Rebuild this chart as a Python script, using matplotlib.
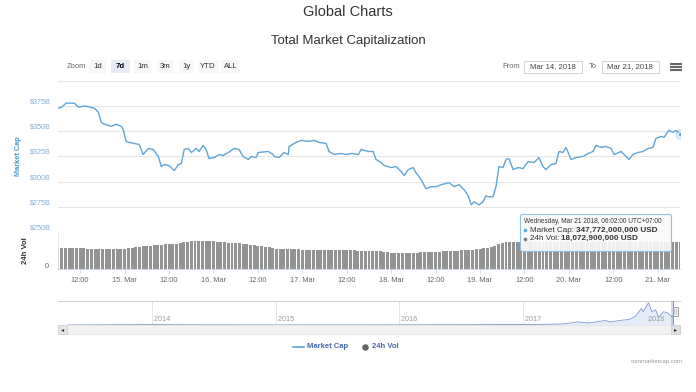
import matplotlib
matplotlib.use('Agg')
import matplotlib.pyplot as plt
import matplotlib.dates as mdates
from matplotlib.patches import Rectangle, FancyBboxPatch, Circle
from matplotlib.transforms import offset_copy
from datetime import datetime, timedelta

plt.rcParams['font.family'] = ['Liberation Sans', 'DejaVu Sans']

# ---------------- data ----------------
start_time = datetime(2018, 3, 14, 6, 2)   # first point (UTC+7)
span_hours = 168

cap_hours = [0, 0.9, 2.2, 4.4, 5.5, 6.8, 7.6, 9.8, 10.9, 11.7,
             12.5, 14.4, 15.7, 17.1, 17.6, 18.4, 19.2, 20.6, 21.9, 23.0,
             24.4, 25.7, 27.1, 27.9, 28.7, 30.0, 31.4, 32.5, 33.3, 34.1,
             35.2, 36.0, 37.3, 38.1, 39.2, 40.0, 40.8, 42.2, 43.5, 44.6,
             46.0, 47.6, 48.9, 50.0, 51.4, 52.2, 53.5, 54.1, 56.8, 58.1,
             58.4, 59.7, 61.1, 62.2, 62.4, 64.3, 65.7, 67.6, 69.2, 70.5,
             72.4, 73.2, 74.6, 76.5, 77.8, 79.2, 81.1, 81.9, 83.8, 85.1,
             85.9, 87.3, 88.1, 90.0, 91.3, 92.7, 93.5, 94.6, 95.9, 96.7,
             98.1, 99.4, 100.8, 102.1, 103.5, 105.6, 107.0, 108.3, 109.7, 110.8,
             111.6, 112.4, 113.7, 114.8, 115.6, 116.2, 117.5, 118.3, 119.1, 120.2,
             121.0, 121.8, 122.9, 124.3, 125.6, 127.0, 128.6, 129.9, 131.0, 131.8,
             133.2, 134.5, 135.3, 136.4, 137.2, 138.6, 139.9, 141.8, 143.2, 144.5,
             145.3, 146.7, 148.0, 149.4, 150.2, 152.1, 153.4, 154.2, 155.3, 156.7,
             158.0, 159.4, 160.7, 161.5, 162.9, 163.7, 165.0, 166.1, 166.9, 168.0]
market_cap_b = [373, 373.7, 378, 378, 374, 375, 375, 373, 369, 359,
                357, 355, 357, 355, 352, 340, 339, 338, 337, 327,
                333, 332, 325, 315, 317, 316, 311, 317, 318, 332,
                333, 329, 333, 330, 336, 332, 323, 324, 327, 326,
                329, 333, 332, 325, 322, 325, 324, 329, 330, 327,
                325, 324, 329, 327, 335, 339, 341, 340, 341, 339,
                338, 330, 327, 328, 327, 328, 327, 332, 330, 330,
                322, 319, 316, 314, 315, 310, 306, 312, 314, 309,
                302, 293, 295, 295, 297, 299, 295, 297, 292, 286,
                277, 280, 277, 280, 286, 285, 285, 295, 315, 314,
                322, 323, 312, 314, 313, 320, 319, 324, 315, 312,
                317, 318, 330, 329, 334, 322, 324, 325, 328, 330,
                336, 334, 335, 333, 327, 330, 325, 322, 327, 329,
                330, 333, 334, 343, 345, 344, 351, 349, 351, 347.772]

# hourly 24h volume, $B
volume_b = [13.8, 13.8, 13.7, 13.7, 13.7, 13.6, 13.6, 13.6, 13.5, 13.5, 13.4,
            13.3, 13.3, 13.3, 13.2, 13.2, 13.1, 13.1, 13.0,
            14.0, 14.2, 14.4, 14.7, 15.0, 15.3,
            15.5, 15.7, 15.9, 16.2, 16.5,
            16.6, 16.7, 16.8, 17.0,
            18.1, 18.2, 18.3, 18.4, 18.5,
            18.5, 18.4, 18.4, 18.3, 18.1,
            17.9, 17.7, 17.5, 17.4, 17.2,
            17.0, 16.7, 16.4, 16.0, 15.7,
            15.4, 15.2, 14.8, 14.3, 13.8,
            13.4, 13.2, 13.1, 13.1, 13.0,
            13.0, 13.0, 12.9, 12.9, 12.8, 12.8, 12.8, 12.7, 12.7, 12.6,
            12.6, 12.5, 12.5, 12.4, 12.4, 12.3, 12.3, 12.2, 12.1, 12.1,
            12.0, 12.0, 11.9, 11.9, 11.5, 11.0, 10.7, 10.4,
            10.4, 10.5, 10.5, 10.6, 10.8, 10.9, 11.0, 11.1, 11.2,
            11.3, 11.4, 11.5, 11.6, 11.8, 11.9, 12.0, 12.1, 12.3, 12.5,
            12.7, 12.9, 13.1, 13.3, 13.6, 14.0,
            14.6, 15.2, 16.5, 17.5,
            18.1, 18.2, 18.2, 18.1, 18.1, 18.2, 18.2, 18.1, 18.0, 18.1,
            18.1, 18.2, 18.1, 18.1, 18.0, 18.0, 18.1, 18.1, 18.2, 18.1,
            18.1, 18.0, 18.1, 18.1, 18.2, 18.2, 18.1, 18.1, 18.0, 18.1,
            18.1, 18.1, 18.2, 18.1, 18.1, 18.0, 18.1, 18.1, 18.1, 18.2,
            18.2, 18.1, 18.1, 18.1, 18.1, 18.1, 18.1, 18.07]

x_tick_labels = ["12:00", "15. Mar", "12:00", "16. Mar", "12:00", "17. Mar", "12:00",
                 "18. Mar", "12:00", "19. Mar", "12:00", "20. Mar", "12:00", "21. Mar"]
first_tick = datetime(2018, 3, 14, 12, 0)

cap_ticks = [250, 275, 300, 325, 350, 375, 400]
cap_tick_labels = ["$250B", "$275B", "$300B", "$325B", "$350B", "$375B", ""]

nav_dates = ["2013-04-28", "2013-12-04", "2014-06-01", "2015-01-15", "2016-01-01",
             "2016-06-15", "2017-01-01", "2017-03-01", "2017-05-01", "2017-06-12",
             "2017-07-16", "2017-09-01", "2017-09-15", "2017-10-20", "2017-11-12",
             "2017-11-29", "2017-12-17", "2017-12-22", "2018-01-07", "2018-01-17",
             "2018-01-28", "2018-02-06", "2018-02-20", "2018-03-05", "2018-03-18",
             "2018-03-21"]
nav_values_b = [1.5, 15, 8, 4, 7, 12, 18, 25, 40, 115,
                75, 170, 115, 180, 210, 330, 620, 500, 830, 500,
                570, 280, 500, 450, 290, 348]
nav_years = [2014, 2015, 2016, 2017, 2018]

zoom_buttons = ["1d", "7d", "1m", "3m", "1y", "YTD", "ALL"]
selected_button = "7d"

# ---------------- styles ----------------
W, H = 696, 392
LINE = '#5fa5d8'
GRID = '#e6e6e6'
TXT = '#666666'
YLAB = '#86aed3'

fig = plt.figure(figsize=(W / 100, H / 100), dpi=100)
fig.patch.set_facecolor('white')


def ax_rect(x0, y0, x1, y1):
    return [x0 / W, 1 - y1 / H, (x1 - x0) / W, (y1 - y0) / H]


cap_times = [start_time + timedelta(hours=h) for h in cap_hours]
end_time = start_time + timedelta(hours=span_hours)
xmin = mdates.date2num(start_time)
xmax = mdates.date2num(end_time)

# ---- price panel ----
ax = fig.add_axes(ax_rect(58, 81, 680, 232))
ax.plot(cap_times, market_cap_b, color=LINE, lw=1.0, zorder=3, solid_joinstyle='round')
ax.set_xlim(xmin, xmax)
ax.set_ylim(250, 400)
ax.set_yticks(cap_ticks)
ax.yaxis.grid(True, color=GRID, lw=0.8)
ax.tick_params(left=False, bottom=False, labelleft=False, labelbottom=False)
for s in ax.spines.values():
    s.set_visible(False)
lab_tr = offset_copy(ax.get_yaxis_transform(), fig=fig, x=-7, y=4, units='dots')
for v, lab in zip(cap_ticks, cap_tick_labels):
    ax.text(0, v, lab, transform=lab_tr, ha='right', va='center', fontsize=5.2, color=YLAB)
# crosshair + hover marker on last point
ax.axvline(cap_times[-1], color='#cccccc', lw=0.7, zorder=2)
ax.scatter([cap_times[-1]], [market_cap_b[-1]], s=60, color=LINE, alpha=0.25, lw=0, zorder=4)
ax.scatter([cap_times[-1]], [market_cap_b[-1]], s=10, color=LINE, edgecolor='white', lw=0.6, zorder=5)
ax.set_ylabel("Market Cap", fontsize=5.3, color='#4a97d3', fontweight='bold', labelpad=0)
ax.yaxis.set_label_coords(-36 / 622, 0.5)

# ---- volume panel ----
axv = fig.add_axes(ax_rect(58, 232, 680, 269))
vol_times = [start_time + timedelta(hours=i) for i in range(len(volume_b))]
axv.bar(vol_times, volume_b, width=0.8 / 24, color='#939393', lw=0, zorder=2)
axv.set_xlim(xmin, xmax)
axv.set_ylim(0, 24.5)
axv.set_yticks([])
for s in ['top', 'right']:
    axv.spines[s].set_visible(False)
axv.spines['left'].set_color('#e6e6e6')
axv.spines['left'].set_linewidth(0.6)
axv.spines['bottom'].set_color('#ccd6eb')
axv.spines['bottom'].set_linewidth(0.7)
tick_times = [first_tick + timedelta(hours=12 * i) for i in range(len(x_tick_labels))]
axv.set_xticks([mdates.date2num(t) for t in tick_times])
axv.set_xticklabels(x_tick_labels, fontsize=5.3, color=TXT)
axv.tick_params(axis='x', length=3, color='#ccd6eb', width=0.6, pad=2.5)
axv.tick_params(axis='y', left=False)
vol_tr = offset_copy(axv.get_yaxis_transform(), fig=fig, x=-9, y=3, units='dots')
axv.text(0, 0, "0", transform=vol_tr, ha='right', va='center', fontsize=5.3, color=TXT)
axv.set_ylabel("24h Vol", fontsize=5.6, color='#333333', fontweight='bold')
axv.yaxis.set_label_coords(-29 / 622, 0.5)

# ---- navigator ----
axn = fig.add_axes(ax_rect(58, 301, 680, 325))
nd = [datetime.strptime(d, "%Y-%m-%d") for d in nav_dates]
axn.fill_between(nd, nav_values_b, 0, color='#e3ecf8', lw=0, zorder=2)
axn.plot(nd, nav_values_b, color='#7d98cc', lw=0.6, zorder=3)
nav_left = datetime(2013, 3, 29)
nav_right = datetime(2018, 4, 10)
axn.set_xlim(nav_left, nav_right)
axn.set_ylim(0, 900)
axn.set_xticks([])
axn.set_yticks([])
for s in ['left', 'right', 'bottom']:
    axn.spines[s].set_visible(False)
axn.spines['top'].set_color('#cccccc')
axn.spines['top'].set_linewidth(0.7)
for y in nav_years:
    d = datetime(y, 1, 1)
    axn.axvline(d, color='#e6e6e6', lw=0.7, zorder=1)
    axn.text(d, 0.07, f" {y}", transform=axn.get_xaxis_transform(), fontsize=5.2,
             color='#999999', ha='left', va='bottom', zorder=4)
axn.axvspan(start_time, end_time, color='#6685c2', alpha=0.3, lw=0, zorder=3)
axn.axvline(end_time, color='#999999', lw=0.7, zorder=4)

# ---------------- overlay for chrome ----------------
ov = fig.add_axes([0, 0, 1, 1], zorder=10)
ov.set_xlim(0, W)
ov.set_ylim(H, 0)
ov.axis('off')
ov.patch.set_alpha(0)

ov.text(348, 12, "Global Charts", ha='center', va='center', fontsize=10.5, color='#333333')
ov.text(348, 41, "Total Market Capitalization", ha='center', va='center', fontsize=9.5, color='#333333')

# range selector
ov.text(76, 66.5, "Zoom", ha='center', va='center', fontsize=5.4, color=TXT)
btn_x = [98, 120.5, 142.5, 165, 186, 208, 230.5]
btn_w = [16, 19, 17, 17, 15, 21, 19]
for lab, cx, bw in zip(zoom_buttons, btn_x, btn_w):
    sel = lab == selected_button
    ov.add_patch(Rectangle((cx - bw / 2, 60), bw, 12.5,
                           facecolor='#e6ebf5' if sel else '#f7f7f7', lw=0))
    ov.text(cx, 66.5, lab, ha='center', va='center', fontsize=5.6,
            color='#000000' if sel else '#333333', fontweight='bold' if sel else 'normal')

# date inputs
ov.text(511, 66.8, "From", ha='center', va='center', fontsize=5.5, color=TXT)
ov.add_patch(Rectangle((524, 60.5), 57.5, 12.5, facecolor='white', edgecolor='#cccccc', lw=0.6))
ov.text(552.7, 66.8, "Mar 14, 2018", ha='center', va='center', fontsize=5.6, color='#444444')
ov.text(593, 66.8, "To", ha='center', va='center', fontsize=5.5, color=TXT)
ov.add_patch(Rectangle((602, 60.5), 56.5, 12.5, facecolor='white', edgecolor='#cccccc', lw=0.6))
ov.text(630, 66.8, "Mar 21, 2018", ha='center', va='center', fontsize=5.6, color='#444444')
for yy in (63.5, 66.5, 69.5):
    ov.plot([669.5, 681.5], [yy, yy], color='#666666', lw=1.5, solid_capstyle='butt')

# tooltip
ov.add_patch(FancyBboxPatch((520.5, 214.5), 151, 37, boxstyle="round,pad=0,rounding_size=2",
                            facecolor=(0.98, 0.98, 0.98, 0.9), edgecolor='#8ec0e8', lw=0.8))
ov.text(524, 221, "Wednesday, Mar 21 2018, 06:02:00 UTC+07:00", ha='left', va='center',
        fontsize=4.7, color='#333333')
ov.scatter([525], [230.2], s=7, color=LINE, lw=0)
t1 = ov.text(529.5, 230.2, "Market Cap: ", ha='left', va='center', fontsize=5.9, color='#333333')
ov.annotate("347,772,000,000 USD", xy=(1, 0.5), xycoords=t1, ha='left', va='center',
            fontsize=5.9, fontweight='bold', color='#333333')
ov.scatter([525], [238.6], s=7, color='#777777', lw=0)
t2 = ov.text(529.5, 238.6, "24h Vol: ", ha='left', va='center', fontsize=5.9, color='#333333')
ov.annotate("18,072,900,000 USD", xy=(1, 0.5), xycoords=t2, ha='left', va='center',
            fontsize=5.9, fontweight='bold', color='#333333')

# scrollbar
ov.add_patch(Rectangle((58, 325), 622, 9, facecolor='#f2f2f2', edgecolor='#e0e0e0', lw=0.5))
ov.add_patch(Rectangle((58, 325), 9, 9, facecolor='#e6e6e6', edgecolor='#cccccc', lw=0.5))
ov.add_patch(Rectangle((671, 325), 9, 9, facecolor='#dddddd', edgecolor='#cccccc', lw=0.5))
ov.text(62.5, 329.7, "◂", ha='center', va='center', fontsize=4.5, color='#333333',
        family=['DejaVu Sans'])
ov.text(675.5, 329.7, "▸", ha='center', va='center', fontsize=4.5, color='#333333',
        family=['DejaVu Sans'])
# navigator handle
ov.add_patch(Rectangle((672.5, 306.5), 5, 9, facecolor='#f2f2f2', edgecolor='#999999', lw=0.6))
ov.plot([674.3, 674.3], [308.5, 313.5], color='#999999', lw=0.4)
ov.plot([675.7, 675.7], [308.5, 313.5], color='#999999', lw=0.4)

# legend
LEG = '#4567a8'
ov.plot([293, 304], [347, 347], color=LINE, lw=1.2)
ov.text(307, 347, "Market Cap", ha='left', va='center', fontsize=5.5, fontweight='bold', color=LEG)
ov.scatter([365], [347], s=22, color='#666666', lw=0)
ov.text(372.5, 347, "24h Vol", ha='left', va='center', fontsize=5.5, fontweight='bold', color=LEG)

# credits
ov.text(683, 362, "coinmarketcap.com", ha='right', va='center', fontsize=4.3, color='#999999')

fig.savefig("out.png", dpi=100, facecolor='white')
